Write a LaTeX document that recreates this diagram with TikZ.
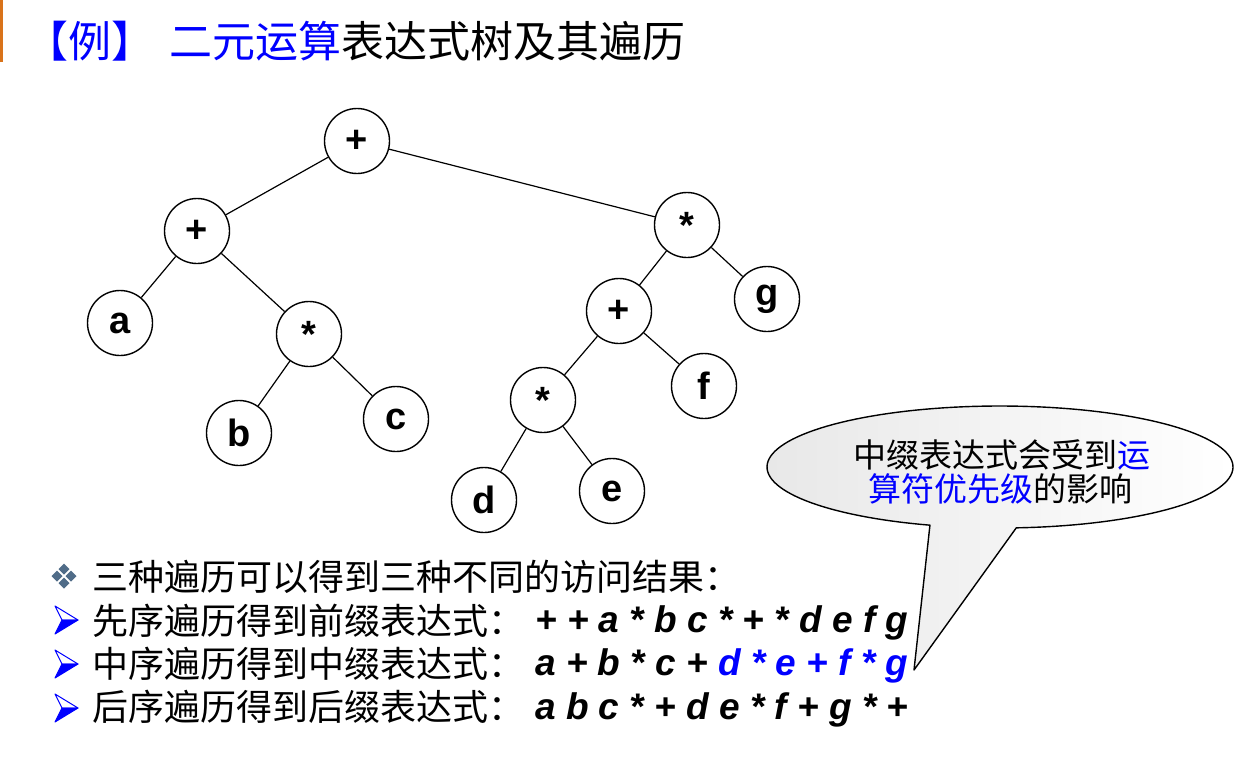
\documentclass[tikz,border=0pt]{standalone}
\usepackage{fontspec}
\setmainfont{Noto Sans CJK SC}
\newfontfamily\arial{Liberation Sans}
\definecolor{pureblue}{RGB}{0,0,255}
\definecolor{slate}{RGB}{80,108,136}
\definecolor{barorange}{RGB}{217,115,26}
\begin{document}
\begin{tikzpicture}[x=1pt,y=-1pt,
  tnode/.style={circle, draw, line width=1.4pt, minimum size=65pt, inner sep=0pt,
    font=\arial\bfseries\fontsize{38}{38}\selectfont},
  tedge/.style={line width=1.2pt},
  expr/.style={anchor=base west, inner sep=0pt, font=\arial\bfseries\itshape\fontsize{37}{40}\selectfont},
  cjkline/.style={anchor=base west, inner sep=0pt, font=\fontsize{36}{40}\selectfont},
  calltext/.style={anchor=base, inner sep=0pt, font=\fontsize{33}{38}\selectfont},
  arrowbullet/.style={line width=1pt, draw=pureblue, line join=round}
]
\useasboundingbox (0,0) rectangle (1255,760);

% left orange bar
\draw[barorange, line width=2.5pt] (1.5,0) -- (1.5,62);

% title
\node[anchor=base, inner sep=0pt, text=pureblue, font=\fontsize{43}{50}\selectfont] (ttl1) at (89.5,57) {【例】};
\node[anchor=base west, inner sep=0pt, font=\fontsize{43}{50}\selectfont] (ttl2) at (169,57) {\textcolor{pureblue}{二元运算}表达式树及其遍历};

% tree nodes
\node[tnode] (root) at (357,141) {+};
\node[tnode] (pl) at (197,231) {+};
\node[tnode] (a) at (120,323) {a};
\node[tnode] (sb) at (309,334) {*};
\node[tnode] (b) at (239,433) {b};
\node[tnode] (c) at (396,419) {c};
\node[tnode] (sr) at (687,225) {*};
\node[tnode] (g) at (767,299) {g};
\node[tnode] (pr) at (619,311) {+};
\node[tnode] (f) at (704,386) {f};
\node[tnode] (sd) at (543,400) {*};
\node[tnode] (d) at (484,500) {d};
\node[tnode] (e) at (612,491) {e};

% tree edges
\draw[tedge] (root) -- (pl);
\draw[tedge] (root) -- (sr);
\draw[tedge] (pl) -- (a);
\draw[tedge] (pl) -- (sb);
\draw[tedge] (sb) -- (b);
\draw[tedge] (sb) -- (c);
\draw[tedge] (sr) -- (pr);
\draw[tedge] (sr) -- (g);
\draw[tedge] (pr) -- (sd);
\draw[tedge] (pr) -- (f);
\draw[tedge] (sd) -- (d);
\draw[tedge] (sd) -- (e);

% callout
\path[draw, line width=1.4pt, line join=round, left color=black!9, right color=white]
  plot[domain=107.5:446, samples=140] ({1000+233*cos(\x)},{467+61*sin(\x)})
  -- (914,670) -- cycle;
\node[calltext] (ct1) at (1002,467) {中缀表达式会受到\textcolor{pureblue}{运}};
\node[calltext] (ct2) at (1000,501) {\textcolor{pureblue}{算符优先级}的影响};

% bullet: four diamonds
\foreach \dx/\dy in {0/-7, -7/0, 7/0, 0/7}{
  \fill[slate] (64+\dx,576+\dy) ++(0,-5.5) -- ++(5.5,5.5) -- ++(-5.5,5.5) -- ++(-5.5,-5.5) -- cycle;
}
% arrow bullets
\foreach \yy in {620,664,708}{
  \filldraw[arrowbullet, fill=white] (55,\yy-14) -- (78,\yy) -- (62,\yy) -- cycle;
  \filldraw[arrowbullet, fill=pureblue] (62,\yy) -- (78,\yy) -- (55,\yy+14) -- cycle;
}

% text lines
\node[cjkline] (l1) at (92,590) {三种遍历可以得到三种不同的访问结果：};
\node[cjkline] (l2) at (92,634) {先序遍历得到前缀表达式：};
\node[cjkline] (l3) at (92,677) {中序遍历得到中缀表达式：};
\node[cjkline] (l4) at (92,720) {后序遍历得到后缀表达式：};

\node[expr] (x2) at (535,632) {+ + a * b c * + * d e f g};
\node[expr] (x3) at (535,675) {a + b * c + \textcolor{pureblue}{d * e + f * g}};
\node[expr] (x4) at (535,719) {a b c * + d e * f + g * +};
\end{tikzpicture}
\end{document}
